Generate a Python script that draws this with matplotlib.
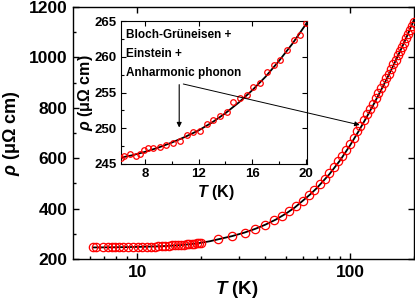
import matplotlib
matplotlib.use("Agg")
import matplotlib.pyplot as plt
from matplotlib.ticker import FixedLocator, FormatStrFormatter, NullFormatter, MultipleLocator

plt.rcParams['font.family'] = ['Liberation Sans', 'DejaVu Sans']
plt.rcParams['font.weight'] = 'bold'
plt.rcParams['mathtext.fontset'] = 'custom'
plt.rcParams['mathtext.it'] = 'Liberation Sans:italic:bold'
plt.rcParams['mathtext.rm'] = 'Liberation Sans:bold'
plt.rcParams['mathtext.bf'] = 'Liberation Sans:bold'

# low temperature data
T_lo = [6.2, 6.4, 6.9, 7.3, 7.6, 7.9, 8.2, 8.6, 9.1, 9.6, 10.1, 10.6, 11.1, 11.6, 12.1,
        12.6, 13.1, 13.6, 14.1, 14.6, 15.1, 15.6, 16.1, 16.6, 17.1, 17.6, 18.1, 18.6,
        19.1, 19.6, 20.0]
rho_lo = [245.8, 246.1, 246.4, 246.1, 246.4, 246.9, 247.2, 247.2, 247.4, 247.7, 248.0,
          248.2, 249.0, 249.5, 249.6, 250.6, 251.2, 251.7, 252.3, 253.7, 254.2, 254.6,
          255.7, 256.3, 257.8, 258.9, 259.5, 260.9, 262.3, 263.1, 264.7]

# higher temperature data (main panel)
T_hi = [24, 28, 32, 36, 40, 44, 48, 52, 56, 60, 64, 68, 72, 76, 80, 84, 88, 92, 96, 100,
        104, 108, 112, 116, 120, 124, 128, 132, 136, 140, 144, 148, 152, 156, 160, 164,
        168, 172, 176, 180, 184, 188, 192, 196, 200]
rho_hi = [280, 291, 304, 319, 335, 353, 372, 391, 411, 432, 453, 474, 496, 518, 541, 564,
          587, 610, 634, 658, 682, 706, 729, 752, 774, 796, 817, 838, 859, 879, 899, 918,
          936, 955, 972, 990, 1008, 1025, 1042, 1059, 1076, 1093, 1110, 1126, 1142]

# fit curve (Bloch-Grueneisen + Einstein + anharmonic phonon)
T_fit = [6.2, 7, 8, 9, 10, 11, 12, 13, 14, 15, 16, 17, 18, 19, 20, 22, 24, 28, 32, 36, 40,
         45, 50, 55, 60, 65, 70, 80, 90, 100, 110, 120, 130, 140, 150, 160, 170, 180, 190, 200]
rho_fit = [245.9, 246.2, 246.7, 247.3, 248.0, 248.8, 249.7, 250.8, 252.1, 253.6, 255.3,
           257.2, 259.4, 261.8, 264.5, 270.5, 278, 291, 305, 320, 336, 357, 380, 404, 431,
           456, 482, 536, 592, 650, 708, 764, 818, 870, 920, 968, 1015, 1060, 1105, 1150]

inset_text = ["Bloch-Gr\u00fcneisen +", "Einstein +", "Anharmonic phonon"]
rho_label = '$\\rho$ (\u03bc\u03a9 cm)'
T_label = '$T$ (K)'

T_all = T_lo + T_hi
rho_all = rho_lo + rho_hi

fig = plt.figure(figsize=(4.15, 2.99), dpi=100)
ax = fig.add_axes([73 / 415, 40 / 299, 341 / 415, 252 / 299])

ax.plot(T_fit, rho_fit, color='k', lw=1.3, zorder=2)
ax.plot(T_all, rho_all, 'o', mfc='none', mec='red', mew=0.9, ms=6, zorder=3)

ax.set_xscale('log')
ax.set_xlim(5, 200)
ax.set_ylim(200, 1200)
ax.xaxis.set_major_locator(FixedLocator([10, 100]))
ax.xaxis.set_major_formatter(FormatStrFormatter('%d'))
ax.xaxis.set_minor_locator(FixedLocator([6, 7, 8, 9, 20, 30, 40, 50, 60, 70, 80, 90, 200]))
ax.xaxis.set_minor_formatter(NullFormatter())
ax.yaxis.set_major_locator(MultipleLocator(200))
ax.yaxis.set_minor_locator(MultipleLocator(100))
ax.tick_params(which='major', direction='in', length=4, width=1, top=True, right=True,
               labelsize=12.5, pad=4)
ax.tick_params(which='minor', direction='in', length=2.5, width=1, top=False, right=False)
for s in ax.spines.values():
    s.set_linewidth(1.0)
ax.set_xlabel(T_label, fontsize=13.5, fontweight='bold')
ax.set_ylabel(rho_label, fontsize=13, fontweight='bold')
ax.xaxis.set_label_coords(0.481, -0.08)
ax.yaxis.set_label_coords(-0.15, 0.5)

# inset
axi = fig.add_axes([121 / 415, 135 / 299, 186 / 415, 143 / 299])
axi.plot(T_fit, rho_fit, color='k', lw=1.3, zorder=2)
axi.plot(T_lo, rho_lo, 'o', mfc='none', mec='red', mew=0.9, ms=4, zorder=3, clip_on=True)
axi.set_xlim(6.2, 20.1)
axi.set_ylim(245, 265)
axi.xaxis.set_major_locator(FixedLocator([8, 12, 16, 20]))
axi.xaxis.set_minor_locator(FixedLocator([10, 14, 18]))
axi.yaxis.set_major_locator(MultipleLocator(5))
axi.yaxis.set_minor_locator(MultipleLocator(2.5))
axi.tick_params(which='major', direction='in', length=3.5, width=0.8, top=True, right=True,
                labelsize=9.5, pad=3)
axi.tick_params(which='minor', direction='in', length=2, width=0.8, top=False, right=False)
for s in axi.spines.values():
    s.set_linewidth(0.8)
axi.set_xlabel(T_label, fontsize=11.5, fontweight='bold')
axi.set_ylabel(rho_label, fontsize=11.5, fontweight='bold')
axi.xaxis.set_label_coords(0.51, -0.13)
axi.yaxis.set_label_coords(-0.14, 0.5)

for txt, yy in zip(inset_text, [0.902, 0.769, 0.636]):
    axi.text(0.027, yy, txt, transform=axi.transAxes, ha='left', va='center',
             fontsize=8.5, fontweight='bold')

axi.annotate('', xy=(10.55, 250.1), xytext=(10.55, 256.1),
             arrowprops=dict(arrowstyle='-|>', lw=0.8, color='k', mutation_scale=7,
                             shrinkA=0, shrinkB=0))
axi.annotate('', xy=(111, 732), xycoords=ax.transData,
             xytext=(183.3 / 415, 1 - 84 / 299), textcoords='figure fraction',
             arrowprops=dict(arrowstyle='-|>', lw=0.7, color='k', mutation_scale=7,
                             shrinkA=0, shrinkB=0),
             annotation_clip=False)

fig.savefig('out.png', dpi=100)
